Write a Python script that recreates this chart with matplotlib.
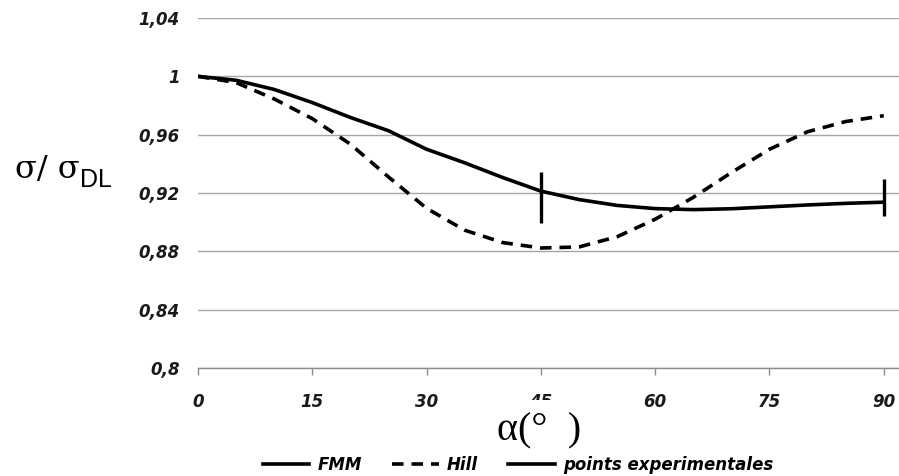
import matplotlib
matplotlib.use("Agg")
import matplotlib.pyplot as plt
from matplotlib.lines import Line2D

# values
angles = [0, 5, 10, 15, 20, 25, 30, 35, 40, 45, 50, 55, 60, 65, 70, 75, 80, 85, 90]
fmm = [1.0, 0.9973, 0.991, 0.982, 0.9718, 0.9627, 0.950, 0.9407, 0.9306, 0.9213,
       0.9155, 0.9115, 0.9093, 0.9086, 0.9092, 0.9105, 0.9118, 0.9129, 0.9137]
hill = [1.0, 0.9957, 0.9845, 0.971, 0.9535, 0.931, 0.9095, 0.8945, 0.886, 0.8823,
        0.883, 0.890, 0.902, 0.917, 0.934, 0.950, 0.962, 0.969, 0.973]

exp_angles = [45, 90]
exp_vals = [0.917, 0.917]
exp_err = [0.0177, 0.0129]

yticks = [0.8, 0.84, 0.88, 0.92, 0.96, 1.0, 1.04]
ytick_labels = ["0,8", "0,84", "0,88", "0,92", "0,96", "1", "1,04"]
xticks = [0, 15, 30, 45, 60, 75, 90]

tick_font = dict(family="DejaVu Sans", weight="bold", style="oblique", size=12)

fig = plt.figure(figsize=(8.99, 4.76), dpi=100)
ax = fig.add_axes([198 / 899, 1 - 368 / 476, 1 - 198 / 899, 350 / 476])

ax.plot(angles, fmm, color="black", lw=2.6, solid_capstyle="butt", zorder=3)
ax.plot(angles, hill, color="black", lw=2.6, ls=(0, (3.2, 2.2)), zorder=3)
ax.errorbar(exp_angles, exp_vals, yerr=exp_err, fmt="none", ecolor="black",
            elinewidth=2.4, capsize=0, zorder=4)

ax.set_xlim(0, 92)
ax.set_ylim(0.8, 1.04)
ax.set_yticks(yticks)
ax.set_yticklabels(ytick_labels, fontdict=tick_font)
ax.set_xticks(xticks)
ax.set_xticklabels([str(t) for t in xticks], fontdict=tick_font)

ax.grid(axis="y", color="#a6a6a6", lw=1.0)
ax.set_axisbelow(True)
for side in ["left", "right", "top"]:
    ax.spines[side].set_visible(False)
ax.spines["bottom"].set_color("#8c8c8c")
ax.spines["bottom"].set_linewidth(1.0)
ax.tick_params(axis="y", length=0, pad=13, colors="#1a1a1a")
ax.tick_params(axis="x", length=5, width=1.0, color="#8c8c8c", pad=13,
               labelcolor="#1a1a1a")

# axis titles (the x title box hides most of the "45" label, as in the original)
fig.text(15 / 899, 1 - 178 / 476, "σ/ σ", family="DejaVu Serif", size=23,
         va="baseline", ha="left")
fig.text(80 / 899, 1 - 187 / 476, "DL", family="Liberation Sans", size=18,
         va="baseline", ha="left")
fig.text(539 / 899, 1 - 440 / 476, "α(°  )", family="Liberation Serif", size=29,
         va="baseline", ha="center", zorder=5,
         bbox=dict(facecolor="white", edgecolor="none", pad=9))

handles = [
    Line2D([], [], color="black", lw=2.6),
    Line2D([], [], color="black", lw=2.6, ls=(0, (3.2, 2.2))),
    Line2D([], [], color="black", lw=2.6),
]
fig.legend(handles, ["FMM", "Hill", "points experimentales"],
           loc="center", bbox_to_anchor=(518 / 899, 1 - 465 / 476), ncol=3,
           frameon=False, handlelength=2.8, handletextpad=0.5, columnspacing=1.8,
           borderpad=0, borderaxespad=0,
           prop=dict(family="DejaVu Sans", weight="bold", style="oblique", size=12))

fig.savefig("out.png", dpi=100)
